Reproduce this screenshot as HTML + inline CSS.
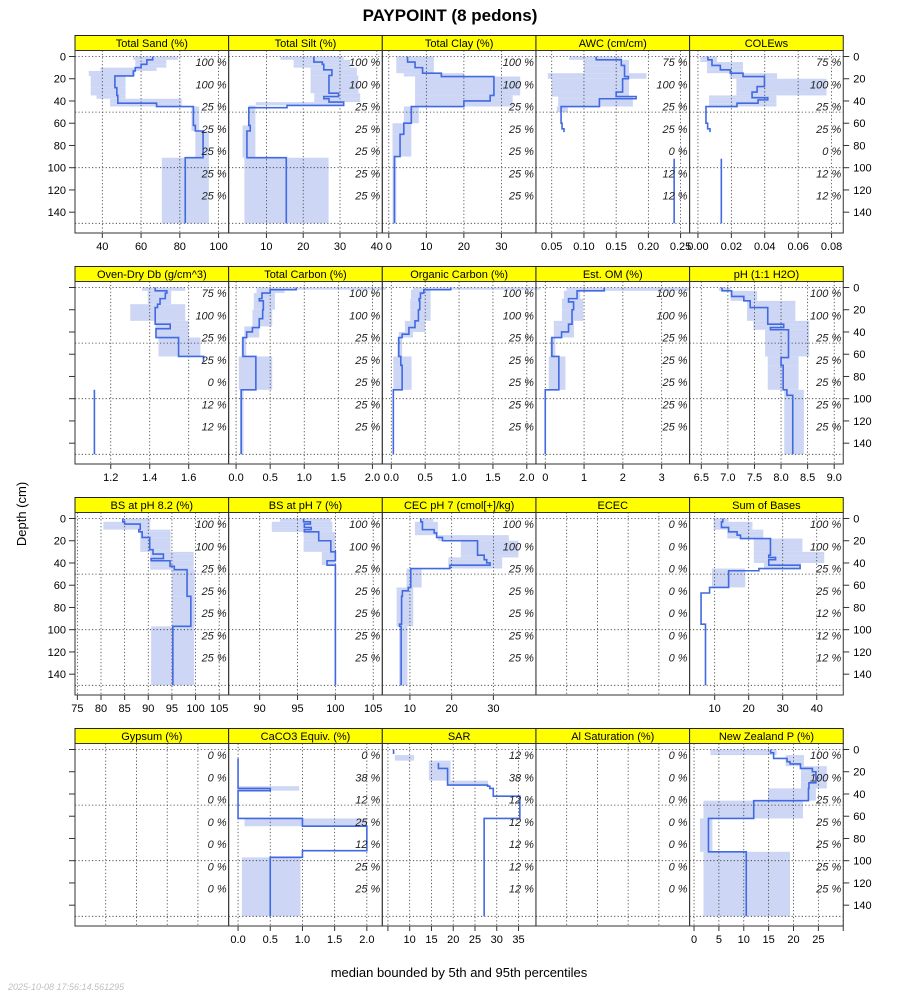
<!DOCTYPE html>
<html><head><meta charset="utf-8">
<style>
body{margin:0;background:#fff;}
svg{display:block;font-family:"Liberation Sans",sans-serif;}
</style></head>
<body>
<svg id="chart" width="900" height="1000" viewBox="0 0 900 1000" xmlns="http://www.w3.org/2000/svg">
<text x="450" y="21" text-anchor="middle" font-size="17" font-weight="bold">PAYPOINT (8 pedons)</text>
<text x="0" y="0" transform="translate(26,514) rotate(-90)" text-anchor="middle" font-size="13">Depth (cm)</text>
<text x="459" y="977" text-anchor="middle" font-size="13">median bounded by 5th and 95th percentiles</text>
<text x="8" y="990" font-size="9" font-style="italic" fill="#c0c0c0">2025-10-08 17:56:14.561295</text>
<g id="panels"></g>
</svg>
<script>
// interval rows: [topDepth, bottomDepth, median, p5, p95]
const sand = [[0,3,66,56,79],[3,7,63,57,73],[7,10,60,57,73],[10,13,57,39,68],[13,17.5,56,33,57],[17.5,28,46.5,34,52],[28,35,47.5,34,52],[35,38,48,37,52],[38,42,48,44,81],[42,45,68,44,81],[45,62,87,86,90],[62,67,88,86,90],[67,91,92,88,95],[91,150,82.8,70.7,95]];
const silt = [[0,3,22.9,13.8,31],[3,5,22.9,17.4,32.8],[5,7,25.2,17.4,32.8],[7,10,25.6,17.4,32.8],[10,12,25.6,22,34.6],[12,17,27.8,22,34.6],[17,33,27,22,35],[33,36,29.6,23,35.5],[36,38,25.6,23,35.5],[38,41,27,23,35.5],[41,44,31,7.1,31],[44,46,15.6,5.2,7],[46,62,5.2,5.2,7],[62,67,5.6,3.5,7],[67,91,4.7,3.5,7],[91,150,15.4,4.0,26.9]];
const clay = [[0,5,5,2,12],[5,10,7,2,12],[10,15,9,2,12],[15,18,14,4,20],[18,35,28,7,35],[35,40,27,7,33],[40,45,20,7,33],[45,60,6,4,8],[60,70,4,1,6],[70,90,3,1,6],[90,150,1.5,1,2]];
const awc = [[0,3,0.119,0.077,0.159],[3,8,0.158,0.10,0.17],[8,15,0.163,0.10,0.17],[15,18,0.163,0.044,0.197],[18,20,0.169,0.044,0.197],[20,32,0.160,0.05,0.17],[32,36,0.150,0.05,0.17],[36,38,0.181,0.06,0.176],[38,45,0.124,0.06,0.176],[45,50,0.0645,0.058,0.075],[50,60,0.0645,null,null],[60,65,0.066,null,null],[65,68,0.069,null,null],[92,150,0.240,null,null]];
const cole = [[0,3,0.006,0.0014,0.0114],[3,5,0.0084,0.0014,0.0114],[5,8,0.0084,0.0054,0.027],[8,12,0.0134,0.0054,0.027],[12,15,0.0194,0.0054,0.027],[15,18,0.027,0.019,0.0474],[18,20,0.0398,0.019,0.0474],[20,27,0.0398,0.023,0.077],[27,32,0.0354,0.023,0.077],[32,35,0.0324,0.023,0.077],[35,37,0.0324,0.0066,0.047],[37,39,0.0418,0.0066,0.047],[39,42,0.036,0.0066,0.047],[42,45,0.0234,0.0066,0.047],[45,60,0.0048,null,null],[60,65,0.0058,null,null],[65,68,0.0072,null,null],[92,150,0.014,null,null]];
const db = [[0,3,1.428,1.36,1.582],[3,5,1.488,1.39,1.51],[5,10,1.48,1.39,1.51],[10,15,1.453,1.39,1.51],[15,18,1.44,1.30,1.582],[18,30,1.428,1.30,1.582],[30,33,1.428,1.43,1.6],[33,37,1.505,1.43,1.6],[37,45,1.432,1.43,1.6],[45,62,1.548,1.445,1.66],[62,67,1.676,null,null],[92,150,1.116,null,null]];
const tc = [[0,2,0.882,0.3,2.2],[2,5,0.50,0.3,0.71],[5,10,0.38,0.26,0.57],[10,12,0.34,0.26,0.57],[12,20,0.40,0.26,0.57],[20,28,0.39,0.24,0.53],[28,35,0.34,0.24,0.53],[35,36,0.34,0.12,0.34],[36,40,0.24,0.12,0.34],[40,45,0.155,0.12,0.34],[45,62,0.1,0.08,0.15],[62,92,0.29,0.04,0.53],[92,150,0.075,0.06,0.11]];
const oc = [[0,2,0.877,0.32,2.2],[2,5,0.48,0.29,0.58],[5,10,0.43,0.29,0.58],[10,12,0.41,0.28,0.58],[12,20,0.42,0.28,0.58],[20,30,0.40,0.28,0.58],[30,36,0.35,0.20,0.50],[36,40,0.26,0.20,0.50],[40,42,0.26,0.11,0.32],[42,45,0.16,0.11,0.32],[45,62,0.11,0.09,0.16],[62,70,0.14,0.03,0.30],[70,92,0.16,0.03,0.30],[92,150,0.03,null,null]];
const om = [[0,3,1.52,0.55,3.7],[3,10,0.82,0.48,0.9],[10,13,0.6,0.43,0.98],[13,20,0.73,0.43,0.98],[20,30,0.69,0.43,0.98],[30,33,0.69,0.22,0.74],[33,40,0.6,0.22,0.74],[40,45,0.42,0.22,0.74],[45,62,0.17,0.13,0.26],[62,92,0.35,0.09,0.52],[92,150,0.0,null,null]];
const ph = [[0,3,6.89,6.83,7.05],[3,8,7.07,7.05,7.55],[8,12,7.30,7.05,7.55],[12,18,7.42,7.36,8.27],[18,30,7.75,7.36,8.27],[30,33,7.75,7.48,8.53],[33,36,8.05,7.48,8.53],[36,38,7.8,7.48,8.53],[38,62,8.14,7.70,8.53],[62,63,8.14,7.75,8.33],[63,70,8.0,7.75,8.33],[70,92,8.04,7.75,8.33],[92,97,8.11,8.06,8.43],[97,150,8.22,8.06,8.43]];
const bs82 = [[0,3,84.6,84.5,90.5],[3,5,85,80.5,90.4],[5,10,88.3,80.5,90.4],[10,12,88,88.3,94.7],[12,17,88.7,88.3,94.7],[17,28,90.3,88.3,94.7],[28,30,91,88.3,94.7],[30,32,91,90.4,99.6],[32,36,93.2,90.4,99.6],[36,38,90.6,90.4,99.6],[38,43,94.6,90.4,99.6],[43,46,95.5,90.4,99.6],[46,70,98.2,95,99.8],[70,97,99,95,99.8],[97,150,95.2,90.6,99.7]];
const bs7 = [[0,3,95.8,92.7,99.4],[3,5,96.7,91.6,99.6],[5,8,95.9,91.6,99.6],[8,10,96.8,91.6,99.6],[10,12,95.9,91.6,99.6],[12,20,97.8,95.8,100],[20,30,99.4,95.8,100],[30,38,100,98.2,100],[38,42,98.9,98.2,100],[42,150,100,99.9,100.1]];
const cec = [[0,3,12.6,12.4,15.6],[3,10,13,11.2,16.7],[10,13,15.8,11.2,16.7],[13,15,16.4,11.2,16.7],[15,17,16.4,16.7,33.7],[17,20,17.8,16.7,33.7],[20,33,26.2,22.2,36],[33,35,27.8,22.2,36],[35,37,27.8,19.2,32.1],[37,40,28.4,19.2,32.1],[40,42,29.2,19.2,32.1],[42,45,19.6,19.2,32.1],[45,62,10.2,9.2,12.8],[62,65,9.6,6.8,10.8],[65,70,8.2,6.8,10.8],[70,95,8.0,6.8,10.8],[95,97,7.5,6.8,10.8],[97,150,7.9,7.4,9.4]];
const ecec = [];
const sob = [[0,3,12.4,9.7,14.1],[3,8,12.0,9.7,21.1],[8,10,14.1,9.7,21.1],[10,12,14.1,13.7,24.3],[12,15,16.6,13.7,24.3],[15,18,17.6,13.7,24.3],[18,30,26.4,21.5,35.8],[30,33,26.4,21.5,42.2],[33,35,25.9,21.5,42.2],[35,37,27.9,21.5,42.2],[37,40,25.9,21.5,42.2],[40,42,25.9,24.5,35.4],[42,45,35.1,24.5,35.4],[45,47,23,9.2,19],[47,62,14.1,9.2,19],[62,67,8.5,null,null],[67,95,6.0,null,null],[95,100,7.3,null,null],[100,150,7.3,null,null]];
const gyp = [];
const caco3 = [[8,33,0.0,null,null],[33,35,0.0,0.0,0.95],[35,37,0.5,0.0,0.95],[37,62,0.0,null,null],[62,69,1.0,0.1,2.0],[69,91,2.0,null,null],[91,97,1.0,null,null],[97,150,0.5,0.06,0.97]];
const sar = [[0,4,6.3,null,null],[5,10,null,6.6,11],[10,12,null,14.4,19.4],[12,17,16.6,14.4,19.4],[17,18,18.7,14.4,19.4],[18,28,18.7,14.4,19.4],[28,32,18.7,18.7,28],[32,33,27.9,null,null],[33,35,28.4,null,null],[35,42,29.2,null,null],[42,62,35.3,null,null],[62,150,27.1,null,null]];
const alsat = [];
const nzp = [[0,3,15.4,3.3,16.6],[3,5,16.0,3.3,16.6],[5,8,16.0,18.4,22.1],[8,11,18.7,18.4,22.1],[11,13,19.3,18.4,22.1],[13,15,21.4,18.4,22.1],[15,17,21.4,21.5,26.7],[17,20,23.8,21.5,26.7],[20,30,24.5,21.5,26.7],[30,35,23.1,21.5,26.7],[35,46,23.0,14.9,24.5],[46,62,12.0,1.9,21.9],[62,92,2.9,1.2,3.7],[92,150,10.5,1.9,19.3]];

const titles = ["Total Sand (%)","Total Silt (%)","Total Clay (%)","AWC (cm/cm)","COLEws","Oven-Dry Db (g/cm^3)","Total Carbon (%)","Organic Carbon (%)","Est. OM (%)","pH (1:1 H2O)","BS at pH 8.2 (%)","BS at pH 7 (%)","CEC pH 7 (cmol[+]/kg)","ECEC","Sum of Bases","Gypsum (%)","CaCO3 Equiv. (%)","SAR","Al Saturation (%)","New Zealand P (%)"];
const names = ["total-sand","total-silt","total-clay","awc","colews","oven-dry-db","total-carbon","organic-carbon","est-om","ph","bs-ph82","bs-ph7","cec-ph7","ecec","sum-of-bases","gypsum","caco3-equiv","sar","al-saturation","new-zealand-p"];
const datasets = [sand,silt,clay,awc,cole,db,tc,oc,om,ph,bs82,bs7,cec,ecec,sob,gyp,caco3,sar,alsat,nzp];
const domMin = [25.9,-0.27,-1.73,0.0255,-0.005,1.0165,-0.109,-0.133,-0.24,6.28,74.5,85.9,3.38,0,2.63,0,-0.146,3.71,0,-0.89];
const domMax = [105.2,41.5,39.2,0.264,0.087,1.805,2.145,2.135,3.72,9.17,107,106.2,40.2,1,47.8,1,2.24,39,1,30.0];
const ticks = [[40,60,80,100],[10,20,30,40],[0,10,20,30],[0.05,0.10,0.15,0.20,0.25],[0,0.02,0.04,0.06,0.08],[1.2,1.4,1.6],[0,0.5,1,1.5,2],[0,0.5,1,1.5,2],[0,1,2,3],[6.5,7,7.5,8,8.5,9],[75,80,85,90,95,100,105],[90,95,100,105],[10,20,30],[0.2,0.4,0.6,0.8],[10,20,30,40],[0.2,0.4,0.6,0.8],[0,0.5,1,1.5,2],[5,10,15,20,25,30,35],[0.2,0.4,0.6,0.8],[0,5,10,15,20,25,30]];
const tickLabels = [["40","60","80","100"],["10","20","30","40"],["0","10","20","30"],["0.05","0.10","0.15","0.20","0.25"],["0.00","0.02","0.04","0.06","0.08"],["1.2","1.4","1.6"],["0.0","0.5","1.0","1.5","2.0"],["0.0","0.5","1.0","1.5","2.0"],["0","1","2","3"],["6.5","7.0","7.5","8.0","8.5","9.0"],["75","80","85","90","95","100","105"],["90","95","100","105"],["10","20","30"],null,["10","20","30","40"],null,["0.0","0.5","1.0","1.5","2.0"],["","10","15","20","25","30","35"],null,["0","5","10","15","20","25",""]];
const pctLabels = [
["100","100","25","25","25","25","25"],["100","100","25","25","25","25","25"],["100","100","25","25","25","25","25"],["75","100","25","25","0","12","12"],["75","100","25","25","0","12","12"],
["75","100","25","25","0","12","12"],["100","100","25","25","25","25","25"],["100","100","25","25","25","25","25"],["100","100","25","25","25","25","25"],["100","100","25","25","25","25","25"],
["100","100","25","25","25","25","25"],["100","100","25","25","25","25","25"],["100","100","25","25","25","25","25"],["0","0","0","0","0","0","0"],["100","100","25","25","12","12","12"],
["0","0","0","0","0","0","0"],["0","38","12","25","12","25","25"],["12","38","12","12","12","12","12"],["0","0","0","0","0","0","0"],["100","100","25","25","25","25","25"]];
const depthTicks = [0,20,40,60,80,100,120,140];
const depthGrid = [0,50,100,150];
const pctDepths = [5,25,45,65,85,105,125];

const NS="http://www.w3.org/2000/svg";
const root=document.getElementById('panels');
const PW=153.65, PH=182.5, X0=75, Y0=50.5, RSTEP=231;
function mk(tag,attrs,parent){const e=document.createElementNS(NS,tag);for(const k in attrs)e.setAttribute(k,attrs[k]);(parent||root).appendChild(e);return e;}

for(let i=0;i<20;i++){
  const c=i%5, r=Math.floor(i/5);
  const L=X0+c*PW, T=Y0+r*RSTEP;
  const xs=v=>L+(v-domMin[i])/(domMax[i]-domMin[i])*PW;
  const ys=d=>T+6+d*1.112;
  const g=mk('g',{});
  
  
  const st=mk('rect',{x:L,y:T-15,width:PW,height:15,fill:'#ffff00',stroke:'#222','stroke-width':1},g);
  
  
  const stt=mk('text',{x:L+PW/2,y:T-3.5,'text-anchor':'middle','font-size':11},g);
  stt.textContent=titles[i];
  
  
  const data=datasets[i];
  data.forEach(row=>{
    if(row[3]!==null&&row[4]!==null){
      const x1=xs(row[3]), x2=xs(row[4]);
      const b=mk('rect',{x:Math.min(x1,x2),y:ys(row[0]),width:Math.abs(x2-x1),height:ys(row[1])-ys(row[0]),fill:'#cdd7f5'},g);
      
      
    }
  });
  ticks[i].forEach(t=>{
    const gl=mk('line',{x1:xs(t),x2:xs(t),y1:T,y2:T+PH,stroke:'#333','stroke-width':0.8,'stroke-dasharray':'1.2,2.2'},g);
    
    
  });
  depthGrid.forEach(d=>{
    const gl=mk('line',{x1:L,x2:L+PW,y1:ys(d),y2:ys(d),stroke:'#333','stroke-width':0.8,'stroke-dasharray':'1.2,2.2'},g);
    
    
  });
  let dstr='', prev=null;
  data.forEach(row=>{
    if(row[2]===null){prev=null;return;}
    const x=xs(row[2]);
    if(prev&&Math.abs(prev[1]-row[0])<0.01){dstr+=' H'+x.toFixed(2)+' V'+ys(row[1]).toFixed(2);}
    else{dstr+=' M'+x.toFixed(2)+' '+ys(row[0]).toFixed(2)+' V'+ys(row[1]).toFixed(2);}
    prev=row;
  });
  if(dstr){
    const p=mk('path',{d:dstr,fill:'none',stroke:'#4169e1','stroke-width':1.6},g);
    
    
  }
  pctLabels[i].forEach((s,k)=>{
    const t=mk('text',{x:L+PW-2,y:ys(pctDepths[k])+4,'text-anchor':'end','font-size':11,'font-style':'italic',fill:'#222'},g);
    t.textContent=s+' %';
    
    
  });
  const bd=mk('rect',{x:L,y:T,width:PW,height:PH,fill:'none',stroke:'#333','stroke-width':1},g);
  
  
  if(tickLabels[i]){
    ticks[i].forEach((t,k)=>{
      const tl=mk('line',{x1:xs(t),x2:xs(t),y1:T+PH,y2:T+PH+5,stroke:'#333','stroke-width':1},g);
      
      
      const tx=mk('text',{x:xs(t),y:T+PH+17,'text-anchor':'middle','font-size':11},g);
      tx.textContent=tickLabels[i][k];
      
      
    });
  }
}
for(let r=0;r<4;r++){
  const T=Y0+r*RSTEP;
  const ys=d=>T+6+d*1.112;
  const XR=X0+5*PW;
  depthTicks.forEach(d=>{
    const tr=mk('line',{x1:XR,x2:XR+6,y1:ys(d),y2:ys(d),stroke:'#333','stroke-width':1});
    
    
    const tl=mk('line',{x1:X0-6,x2:X0,y1:ys(d),y2:ys(d),stroke:'#333','stroke-width':1});
    
    
    const a=mk('text',{x:XR+10,y:ys(d)+4,'font-size':11});
    a.textContent=String(d);
    
    
    if(r===0||r===2){
      const b=mk('text',{x:X0-9,y:ys(d)+4,'font-size':11,'text-anchor':'end'});
      b.textContent=String(d);
      
      
    }
  });
}
</script>
</body></html>
